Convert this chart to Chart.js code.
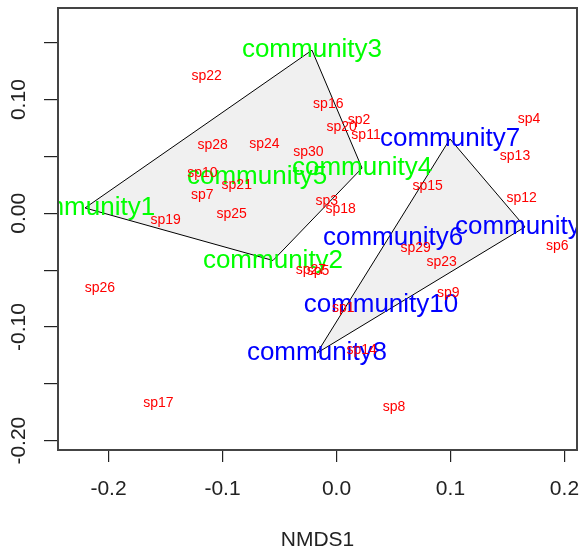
<!DOCTYPE html>
<html>
<head>
<meta charset="utf-8">
<script src="https://cdn.jsdelivr.net/npm/chart.js@4/dist/chart.umd.min.js"></script>
<style>
  html, body { margin: 0; padding: 0; background: #fff; }
  #wrap { width: 584px; height: 553px; }
</style>
</head>
<body>
<div id="wrap"><canvas id="nmds"></canvas></div>
<script>
'use strict';

/* ── Dados: escores NMDS ── */
const speciesNames = ['sp1','sp2','sp3','sp4','sp5','sp6','sp7','sp8','sp9','sp10',
                      'sp11','sp12','sp13','sp14','sp15','sp16','sp17','sp18','sp19','sp20',
                      'sp21','sp22','sp23','sp24','sp25','sp26','sp27','sp28','sp29','sp30'];
const speciesX = [ 0.006,  0.0197, -0.0086,  0.1689, -0.0162,  0.1937, -0.1177,  0.0504,  0.0981, -0.1177,
                   0.0259,  0.1625,  0.1566,  0.0221,  0.0800, -0.0072, -0.1563,  0.0037, -0.1498,  0.0046,
                  -0.0875, -0.1139,  0.0923, -0.0633, -0.0919, -0.2075, -0.0224, -0.1086,  0.0695, -0.0247];
const speciesY = [-0.0836,  0.0822,  0.0106,  0.0830, -0.0507, -0.0288,  0.0158, -0.1701, -0.0704,  0.0352,
                   0.0691,  0.0132,  0.0504, -0.1202,  0.0240,  0.0959, -0.1671,  0.0035, -0.0059,  0.0762,
                   0.0249,  0.1210, -0.0431,  0.0607, -0.0009, -0.0660, -0.0499,  0.0601, -0.0303,  0.0539];

const communityNames = ['community1','community2','community3','community4','community5',
                        'community6','community7','community8','community9','community10'];
const communityX = [-0.2206, -0.0557, -0.0215,  0.0224, -0.0697,  0.0496,  0.0996, -0.0171,  0.1654,  0.0390];
const communityY = [ 0.0047, -0.0415,  0.1435,  0.0398,  0.0319, -0.0218,  0.0654, -0.1229, -0.0120, -0.0806];
const communityGroup = ['A','A','A','A','A','B','B','B','B','B'];

/* Vértices de cada envoltória convexa (ordihull), em ordem */
const hullA = ['community1','community3','community4','community2'];
const hullB = ['community8','community7','community9'];

/* Eixos */
const xTicks = [-0.2, -0.1, 0.0, 0.1, 0.2];
const xTickLabels = ['-0.2', '-0.1', '0.0', '0.1', '0.2'];
const yTicks = [-0.20, -0.15, -0.10, -0.05, 0.00, 0.05, 0.10, 0.15];
const yTickLabels = ['-0.20', '', '-0.10', '', '0.00', '', '0.10', ''];
const xRange = [-0.2443, 0.2110];
const yRange = [-0.2082, 0.1806];

const GROUP_COLORS = { A: '#00FF00', B: '#0000FF' };
const FONT = 'Liberation Sans, Arial, sans-serif';

/* ============================================================
   HELPERS
   ============================================================ */

/** Monta os pontos fechados de uma envoltória */
function hullPoints(names) {
  const pts = names.map(n => {
    const i = communityNames.indexOf(n);
    return { x: communityX[i], y: communityY[i] };
  });
  pts.push(pts[0]);
  return pts;
}

function hullDataset(names) {
  return {
    data: hullPoints(names),
    showLine: true,
    fill: 'shape',
    backgroundColor: '#F0F0F0',
    borderColor: '#000',
    borderWidth: 1,
    pointRadius: 0,
    tension: 0,
  };
}

/** Zera o "overhang" que o Chart.js reserva para rótulos nas bordas */
function noPadding(s) {
  s.paddingLeft = 0; s.paddingRight = 0; s.paddingTop = 0; s.paddingBottom = 0;
}

/* Plugin: rótulos de texto nos pontos (orditorp) */
const labelPlugin = {
  id: 'ordiLabels',
  afterDatasetsDraw(chart) {
    const { ctx, chartArea: a } = chart;
    ctx.save();
    ctx.beginPath();
    ctx.rect(a.left, a.top, a.right - a.left, a.bottom - a.top);
    ctx.clip();
    ctx.textAlign = 'center';
    ctx.textBaseline = 'middle';
    chart.data.datasets.forEach((ds, di) => {
      if (!ds.labels) return;
      const meta = chart.getDatasetMeta(di);
      ctx.font = ds.labelFont;
      meta.data.forEach((el, i) => {
        ctx.fillStyle = Array.isArray(ds.labelColor) ? ds.labelColor[i] : ds.labelColor;
        ctx.fillText(ds.labels[i], el.x, el.y);
      });
    });
    ctx.restore();
  },
};

/* Plugin: moldura do gráfico (box) */
const framePlugin = {
  id: 'frame',
  afterDraw(chart) {
    const { ctx, chartArea: a } = chart;
    ctx.save();
    ctx.strokeStyle = '#444';
    ctx.lineWidth = 2;
    ctx.strokeRect(a.left, a.top, a.right - a.left, a.bottom - a.top);
    ctx.restore();
  },
};

/* ============================================================
   GRÁFICO
   ============================================================ */

new Chart(document.getElementById('nmds'), {
  type: 'scatter',
  data: {
    datasets: [
      hullDataset(hullA),
      hullDataset(hullB),
      {
        data: communityNames.map((_, i) => ({ x: communityX[i], y: communityY[i] })),
        labels: communityNames,
        labelColor: communityGroup.map(g => GROUP_COLORS[g]),
        labelFont: '26px ' + FONT,
        pointRadius: 0,
      },
      {
        data: speciesNames.map((_, i) => ({ x: speciesX[i], y: speciesY[i] })),
        labels: speciesNames,
        labelColor: '#FF0000',
        labelFont: '14px ' + FONT,
        pointRadius: 0,
      },
    ],
  },
  options: {
    responsive: true,
    maintainAspectRatio: false,
    animation: false,
    layout: { padding: { top: 8, right: 7, left: 0, bottom: 0 } },
    plugins: { legend: { display: false }, tooltip: { enabled: false } },
    scales: {
      x: {
        type: 'linear',
        min: xRange[0], max: xRange[1],
        afterBuildTicks: s => { s.ticks = xTicks.map(v => ({ value: v })); },
        afterFit: s => { s.height = 103; noPadding(s); },
        grid: { drawOnChartArea: false, drawTicks: true, tickLength: 12, tickColor: '#222', lineWidth: 1.2 },
        border: { display: false },
        ticks: {
          autoSkip: false, maxRotation: 0, padding: 15,
          color: '#222', font: { family: FONT, size: 21 },
          callback: (v, i) => xTickLabels[i],
        },
        title: {
          display: true, text: 'NMDS1', color: '#222',
          font: { family: FONT, size: 21 }, padding: { top: 0, bottom: 0 },
        },
      },
      y: {
        type: 'linear',
        min: yRange[0], max: yRange[1],
        afterBuildTicks: s => { s.ticks = yTicks.map(v => ({ value: v })); },
        afterFit: s => { s.width = 58; noPadding(s); },
        grid: { drawOnChartArea: false, drawTicks: true, tickLength: 14, tickColor: '#222', lineWidth: 1.2 },
        border: { display: false },
        ticks: {
          autoSkip: false, minRotation: 90, maxRotation: 90, crossAlign: 'center', padding: 1,
          color: '#222', font: { family: FONT, size: 21 },
          callback: (v, i) => yTickLabels[i],
        },
      },
    },
  },
  plugins: [labelPlugin, framePlugin],
});
</script>
</body>
</html>
